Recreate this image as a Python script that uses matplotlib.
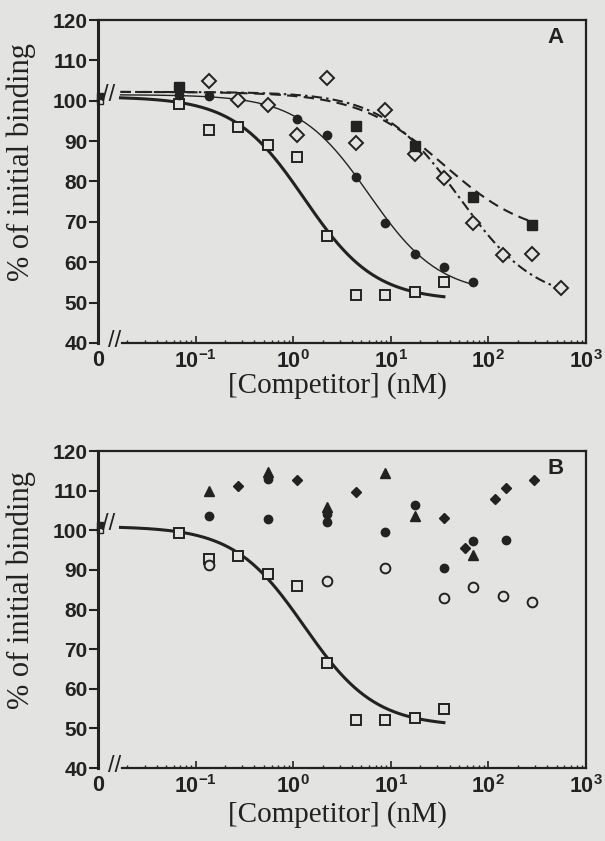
import numpy as np
import matplotlib.pyplot as plt

# competitor concentrations (nM), 2-fold dilution series
conc = [0.068, 0.137, 0.27, 0.55, 1.1, 2.2, 4.4, 8.8, 17.5, 35]
sq_open = [99.3, 92.8, 93.5, 89.0, 86.0, 66.5, 52.0, 52.0, 52.5, 55.0]

# panel A
circ_x = [0.068, 0.137, 1.1, 2.2, 4.4, 8.8, 17.5, 35, 70]
circ_y = [101.5, 101.2, 95.6, 91.4, 81.2, 69.8, 62.0, 58.8, 55.0]
sqf_x = [0.068, 4.4, 17.5, 70, 280]
sqf_y = [103.5, 93.8, 88.8, 76.2, 69.3]
dia_x = [0.137, 0.27, 0.55, 1.1, 2.2, 4.4, 8.8, 17.5, 35, 70, 140, 280, 560]
dia_y = [105.0, 100.2, 99.0, 91.6, 105.6, 89.6, 97.8, 86.8, 80.8, 69.8, 61.9, 62.1, 53.7]

# panel B
ocirc_x = [0.137, 2.2, 8.8, 35, 70, 140, 280]
ocirc_y = [91.2, 87.1, 90.4, 82.8, 85.8, 83.3, 82.0]
fcirc_x = [0.137, 0.55, 0.55, 2.2, 2.2, 8.8, 17.5, 35, 70, 150]
fcirc_y = [103.5, 113.0, 102.8, 104.0, 102.2, 99.5, 106.3, 90.4, 97.2, 97.5]
tri_x = [0.137, 0.55, 2.2, 8.8, 17.5, 70]
tri_y = [109.9, 114.8, 105.8, 114.4, 103.5, 93.7]
fdia_x = [0.27, 1.1, 4.4, 35, 58, 118, 150, 290]
fdia_y = [111.1, 112.6, 109.6, 103.0, 95.5, 108.0, 110.6, 112.6]

# one-site fits: (top, bottom, IC50, hill, last conc)
fit_sq = (101.0, 50.5, 1.3, 1.2, 35)
fit_circ = (101.5, 52.0, 6.0, 1.2, 70)
fit_sqf = (102.2, 66.0, 35.0, 1.0, 280)
fit_dia = (102.2, 50.0, 50.0, 1.1, 560)

xticks = [0.01, 0.1, 1, 10, 100, 1000]
xticklabels = ['0', r'$\mathregular{10^{-1}}$', r'$\mathregular{10^{0}}$',
               r'$\mathregular{10^{1}}$', r'$\mathregular{10^{2}}$', r'$\mathregular{10^{3}}$']

BG = '#e3e3e1'
INK = '#222222'
plt.rcParams['font.family'] = ['Liberation Sans', 'DejaVu Sans']
plt.rcParams['font.weight'] = 'bold'
plt.rcParams['mathtext.default'] = 'regular'


def fit_curve(p):
    top, bot, ic50, h, xmax = p
    x = np.logspace(np.log10(0.017), np.log10(xmax), 200)
    return x, bot + (top - bot) / (1 + (x / ic50) ** h)


def setup(ax, letter, xlab_y):
    ax.set_facecolor(BG)
    ax.set_xscale('log')
    ax.set_xlim(0.01, 1000)
    ax.set_ylim(40, 120)
    ax.set_yticks(range(40, 121, 10))
    ax.set_xticks(xticks)
    ax.set_xticklabels(xticklabels)
    for s in ax.spines.values():
        s.set_color(INK)
        s.set_linewidth(1.6)
    ax.spines['left'].set_linewidth(2.2)
    ax.spines['bottom'].set_bounds(0.0175, 1000)
    ax.tick_params(axis='y', direction='out', length=6.5, width=1.5,
                   labelsize=15, colors=INK, pad=1)
    ax.tick_params(axis='x', which='major', direction='in', length=5,
                   width=1.2, labelsize=15.5, colors=INK, pad=5)
    ax.tick_params(axis='x', which='minor', direction='in', length=2.5,
                   width=1.0, colors=INK)
    ax.set_ylabel('% of initial binding', family='Liberation Serif',
                  fontsize=22, fontweight='normal', color=INK)
    ax.yaxis.set_label_coords(-0.128, 0.56)
    ax.set_xlabel('[Competitor] (nM)', family='Liberation Serif',
                  fontsize=21, fontweight='normal', color=INK)
    ax.xaxis.set_label_coords(0.49, xlab_y)
    ax.text(0.938, 0.945, letter, transform=ax.transAxes, fontsize=16,
            fontweight='bold', ha='center', va='center', color=INK)
    # axis breaks
    ax.text(0.0148, 40.5, '//', fontsize=17, fontweight='normal',
            ha='center', va='center', color=INK, clip_on=False)
    ax.text(0.0128, 101.5, '//', fontsize=17, fontweight='normal',
            ha='center', va='center', color=INK, clip_on=False)
    ax.plot([0.0104], [101.3], 's', ms=4, color=INK, clip_on=False)
    ax.plot([0.0104], [100], 's', ms=4, mfc='none', mec=INK, mew=1, clip_on=False)


fig = plt.figure(figsize=(6.05, 8.41), dpi=100, facecolor=BG)
axA = fig.add_axes([0.162, 0.5922, 0.8066, 0.384])
axB = fig.add_axes([0.162, 0.0868, 0.8066, 0.3769])

# ---- A ----
setup(axA, 'A', -0.09)
x, y = fit_curve(fit_sq)
axA.plot(x, y, '-', color=INK, lw=2.2)
x, y = fit_curve(fit_circ)
axA.plot(x, y, '-', color=INK, lw=1.0)
x, y = fit_curve(fit_sqf)
axA.plot(x, y, color=INK, lw=1.5, dashes=(5, 3))
x, y = fit_curve(fit_dia)
axA.plot(x, y, color=INK, lw=1.5, dashes=(5, 2, 1.2, 2))
axA.plot(conc, sq_open, 's', ms=7.5, mfc=BG, mec=INK, mew=1.4)
axA.plot(dia_x, dia_y, 'D', ms=7.5, mfc=BG, mec=INK, mew=1.4)
axA.plot(circ_x, circ_y, 'o', ms=6, color=INK)
axA.plot(sqf_x, sqf_y, 's', ms=6.5, color=INK)

# ---- B ----
setup(axB, 'B', -0.105)
x, y = fit_curve(fit_sq)
axB.plot(x, y, '-', color=INK, lw=2.2)
axB.plot(conc, sq_open, 's', ms=7.5, mfc=BG, mec=INK, mew=1.4)
axB.plot(ocirc_x, ocirc_y, 'o', ms=7, mfc=BG, mec=INK, mew=1.4)
axB.plot(fcirc_x, fcirc_y, 'o', ms=6, color=INK)
axB.plot(tri_x, tri_y, '^', ms=7, color=INK)
axB.plot(fdia_x, fdia_y, 'D', ms=5, color=INK)

fig.savefig('out.png', dpi=100, facecolor=BG)
